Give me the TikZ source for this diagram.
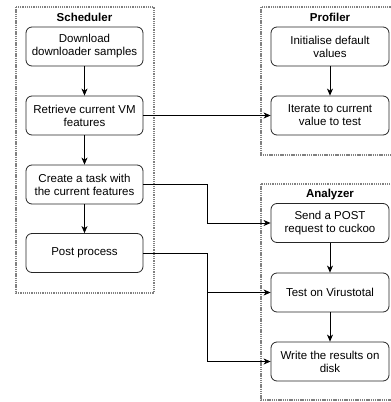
\documentclass[tikz,border=0pt]{standalone}
\usepackage{fontspec}
\setmainfont{Liberation Sans}
\usetikzlibrary{arrows.meta}
\begin{document}
\begin{tikzpicture}[x=1pt,y=-1pt,
  box/.style={draw=black!85, line width=0.8pt, rounded corners=6pt, minimum width=117pt, minimum height=39pt, inner sep=0pt, align=center, font=\fontsize{11.5}{13}\selectfont},
  group/.style={draw=black!50, line width=1.8pt, dash pattern=on 1.3pt off 0.9pt},
  grouplabel/.style={font=\fontsize{11.5}{13}\selectfont\bfseries},
  conn/.style={draw=black, line width=0.8pt, -{Stealth[length=7pt,width=6pt,inset=2pt]}},
  line/.style={draw=black, line width=0.8pt}]
\useasboundingbox (0,0) rectangle (391,402);
\clip (0,0) rectangle (391,402);
% containers
\draw[group] (16,7) rectangle (154,293);
\draw[group] (261,7) rectangle (400,155);
\draw[group] (261,184) rectangle (400,400);
\node[grouplabel] (gs) at (84.5,17) {Scheduler};
\node[grouplabel] (gp) at (330,17) {Profiler};
\node[grouplabel] (ga) at (330,195) {Analyzer};
% scheduler boxes
\node[box] (s1) at (84.5,46.5) {Download\\downloader samples};
\node[box] (s2) at (84.5,115.5) {Retrieve current VM\\features};
\node[box] (s3) at (84.5,184.5) {Create a task with\\the current features};
\node[box] (s4) at (84.5,253) {Post process};
% profiler boxes
\node[box, minimum width=118pt] (p1) at (330,46.5) {Initialise default\\values};
\node[box, minimum width=118pt] (p2) at (330,115.5) {Iterate to current\\value to test};
% analyzer boxes
\node[box, minimum width=118pt] (a1) at (330,223) {Send a POST\\request to cuckoo};
\node[box, minimum width=118pt] (a2) at (330,292.5) {Test on Virustotal};
\node[box, minimum width=118pt] (a3) at (330,361.5) {Write the results on\\disk};
% coordinates
\coordinate (j1) at (207,184.5);
\coordinate (j2) at (207,253);
% arrows
\draw[conn] (s1) -- (s2);
\draw[conn] (s2) -- (s3);
\draw[conn] (s3) -- (s4);
\draw[conn] (p1) -- (p2);
\draw[conn] (a1) -- (a2);
\draw[conn] (a2) -- (a3);
\draw[conn] (s2) -- (p2);
\draw[conn] (s3.east) -- (j1) |- (a1.west);
\draw[conn] (s4.east) -- (j2) |- (a2.west);
\draw[conn] (j2) |- (a3.west);
\end{tikzpicture}
\end{document}
